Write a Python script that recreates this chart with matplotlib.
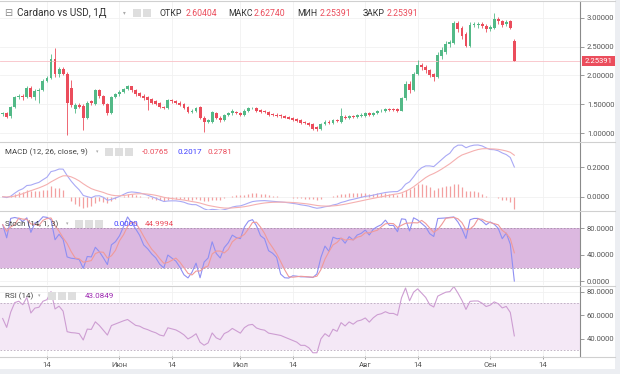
import numpy as np
import pandas as pd
import matplotlib
matplotlib.use("Agg")
import matplotlib.pyplot as plt
import matplotlib.transforms as mtransforms
from matplotlib.patches import Rectangle
from matplotlib.lines import Line2D
from matplotlib.ticker import FormatStrFormatter

plt.rcParams['font.family'] = ['Roboto', 'DejaVu Sans']

# daily candles, 3 May .. 7 Sep
opens = [1.33, 1.35, 1.29, 1.45, 1.62, 1.65, 1.62, 1.79, 1.62, 1.73,
         1.75, 1.91, 1.96, 2.29, 2.02, 2.12, 2.03, 1.79, 1.41, 1.48,
         1.47, 1.26, 1.55, 1.50, 1.74, 1.64, 1.50, 1.345, 1.62, 1.67,
         1.72, 1.77, 1.81, 1.74, 1.69, 1.65, 1.62, 1.59, 1.55, 1.52,
         1.45, 1.43, 1.57, 1.55, 1.53, 1.50, 1.45, 1.37, 1.39, 1.45,
         1.27, 1.19, 1.19, 1.35, 1.27, 1.22, 1.31, 1.34, 1.37, 1.35,
         1.32, 1.39, 1.43, 1.44, 1.40, 1.38, 1.37, 1.33, 1.32, 1.31,
         1.29, 1.28, 1.26, 1.24, 1.23, 1.20, 1.17, 1.16, 1.11, 1.07,
         1.16, 1.20, 1.18, 1.23, 1.20, 1.28, 1.27, 1.30, 1.28, 1.30,
         1.29, 1.34, 1.31, 1.34, 1.38, 1.38, 1.42, 1.42, 1.41, 1.39,
         1.60, 1.86, 1.75, 2.03, 2.19, 2.15, 2.09, 2.02, 1.98, 2.33,
         2.40, 2.55, 2.57, 2.91, 2.83, 2.72, 2.52, 2.88, 2.87, 2.90,
         2.86, 2.80, 2.83, 2.98, 2.95, 2.89, 2.94, 2.60404]
highs = [1.37, 1.37, 1.47, 1.64, 1.68, 1.67, 1.82, 1.81, 1.76, 1.78,
         1.93, 1.99, 2.38, 2.47, 2.15, 2.14, 2.06, 1.92, 1.52, 1.53,
         1.50, 1.56, 1.58, 1.77, 1.77, 1.66, 1.53, 1.64, 1.69, 1.74,
         1.79, 1.83, 1.82, 1.76, 1.71, 1.67, 1.64, 1.61, 1.57, 1.54,
         1.47, 1.59, 1.59, 1.57, 1.55, 1.52, 1.47, 1.41, 1.45, 1.47,
         1.29, 1.24, 1.38, 1.37, 1.29, 1.33, 1.36, 1.41, 1.39, 1.37,
         1.41, 1.45, 1.46, 1.45, 1.42, 1.40, 1.39, 1.35, 1.34, 1.33,
         1.31, 1.30, 1.28, 1.26, 1.24, 1.21, 1.19, 1.17, 1.13, 1.18,
         1.22, 1.22, 1.25, 1.25, 1.43, 1.31, 1.32, 1.32, 1.33, 1.34,
         1.36, 1.36, 1.37, 1.40, 1.41, 1.43, 1.44, 1.44, 1.43, 1.62,
         1.90, 1.90, 2.06, 2.26, 2.22, 2.18, 2.12, 2.05, 2.40, 2.50,
         2.60, 2.62, 2.95, 2.95, 2.86, 2.75, 2.92, 2.93, 2.92, 2.93,
         2.89, 2.88, 3.09, 3.01, 2.97, 2.96, 2.96, 2.62740]
lows = [1.30, 1.26, 1.27, 1.43, 1.59, 1.58, 1.60, 1.60, 1.58, 1.52,
        1.73, 1.88, 1.94, 1.98, 1.97, 2.00, 0.97, 1.45, 1.35, 1.43,
        1.05, 1.24, 1.49, 1.48, 1.61, 1.48, 1.32, 1.33, 1.60, 1.65,
        1.70, 1.75, 1.72, 1.65, 1.63, 1.58, 1.40, 1.51, 1.48, 1.43,
        1.41, 1.42, 1.53, 1.51, 1.47, 1.42, 1.34, 1.35, 1.37, 1.24,
        1.02, 1.17, 1.18, 1.24, 1.20, 1.21, 1.29, 1.32, 1.33, 1.29,
        1.30, 1.37, 1.41, 1.37, 1.35, 1.34, 1.30, 1.29, 1.28, 1.27,
        1.26, 1.24, 1.21, 1.19, 1.15, 1.15, 1.12, 1.05, 1.03, 1.05,
        1.14, 1.15, 1.16, 1.19, 1.18, 1.24, 1.25, 1.26, 1.27, 1.28,
        1.28, 1.29, 1.30, 1.33, 1.36, 1.37, 1.38, 1.38, 1.37, 1.38,
        1.58, 1.70, 1.73, 2.01, 2.10, 2.05, 1.97, 1.91, 1.96, 2.28,
        2.38, 2.50, 2.55, 2.76, 2.64, 2.50, 2.50, 2.84, 2.82, 2.82,
        2.76, 2.77, 2.81, 2.90, 2.84, 2.86, 2.80, 2.25391]
closes = [1.35, 1.28, 1.45, 1.62, 1.65, 1.62, 1.79, 1.62, 1.73, 1.75,
          1.91, 1.96, 2.29, 2.02, 2.12, 2.03, 1.52, 1.49, 1.48, 1.46,
          1.26, 1.53, 1.52, 1.74, 1.64, 1.50, 1.345, 1.62, 1.67, 1.72,
          1.77, 1.81, 1.74, 1.67, 1.65, 1.60, 1.57, 1.53, 1.50, 1.45,
          1.43, 1.57, 1.55, 1.53, 1.49, 1.44, 1.36, 1.39, 1.43, 1.26,
          1.19, 1.22, 1.36, 1.26, 1.22, 1.31, 1.34, 1.39, 1.35, 1.31,
          1.39, 1.43, 1.44, 1.39, 1.37, 1.36, 1.32, 1.31, 1.30, 1.29,
          1.27, 1.25, 1.23, 1.21, 1.17, 1.17, 1.14, 1.07, 1.07, 1.16,
          1.20, 1.17, 1.23, 1.21, 1.29, 1.26, 1.30, 1.28, 1.31, 1.32,
          1.34, 1.31, 1.35, 1.38, 1.39, 1.41, 1.40, 1.40, 1.39, 1.60,
          1.86, 1.75, 2.03, 2.19, 2.14, 2.09, 2.00, 1.97, 2.35, 2.45,
          2.55, 2.58, 2.91, 2.81, 2.69, 2.52, 2.88, 2.90, 2.90, 2.86,
          2.80, 2.85, 2.98, 2.95, 2.88, 2.93, 2.83, 2.25391]

tick_pos = [11, 29, 42, 59, 72, 90, 103, 121, 134]
tick_lab = ['14', 'Июн', '14', 'Июл', '14', 'Авг', '14', 'Сен', '14']

# RSI averages at the left edge (RSI there reads about 57)
rsi_gain0 = 0.020
rsi_loss0 = 0.015
# 14-day range before the first candle (Stoch there reads near 89)
stoch_low0 = 1.05
stoch_high0 = 1.40

GREEN = '#53b987'
RED = '#eb4d5c'

o = np.array(opens); h = np.array(highs); l = np.array(lows); c = np.array(closes)
idx = np.arange(len(c))

# indicators, computed from the candles
cs = pd.Series(c)
macd = cs.ewm(span=12, adjust=False).mean() - cs.ewm(span=26, adjust=False).mean()
signal = macd.ewm(span=9, adjust=False).mean()
hist = macd - signal

ll = pd.Series(l).rolling(14, min_periods=1).min().to_numpy()
hh = pd.Series(h).rolling(14, min_periods=1).max().to_numpy()
ll[:13] = np.minimum(ll[:13], stoch_low0)
hh[:13] = np.maximum(hh[:13], stoch_high0)
k = pd.Series(100 * (c - ll) / (hh - ll))
d = k.rolling(3, min_periods=1).mean()

# Wilder RSI
g, ls_ = rsi_gain0, rsi_loss0
rsi = [100 - 100 / (1 + g / ls_)]
for i in range(1, len(c)):
    ch = c[i] - c[i - 1]
    g = (13 * g + max(ch, 0)) / 14
    ls_ = (13 * ls_ + max(-ch, 0)) / 14
    rsi.append(100 - 100 / (1 + g / ls_))

W, H = 620, 374
fig = plt.figure(figsize=(6.2, 3.74), dpi=100)
fig.patch.set_facecolor('white')


def box(top, bottom):
    return [0, 1 - bottom / H, 580 / W, (bottom - top) / H]


ax1 = fig.add_axes(box(1, 141))
ax2 = fig.add_axes(box(142, 210))
ax3 = fig.add_axes(box(211, 285))
ax4 = fig.add_axes(box(286, 356))

for ax in (ax1, ax2, ax3, ax4):
    for s in ('left', 'top', 'bottom'):
        ax.spines[s].set_visible(False)
    ax.spines['right'].set_color('#8a8a8a')
    ax.spines['right'].set_linewidth(0.8)
    ax.yaxis.tick_right()
    ax.tick_params(axis='y', length=3, width=0.6, color='#8a8a8a',
                   labelsize=5.5, labelcolor='#555555', pad=2)
    ax.set_xlim(-0.66, 143.3)
    ax.set_xticks(tick_pos)
    ax.grid(True, color='#f1f1f1', lw=0.6)
    ax.set_axisbelow(True)
    if ax is not ax4:
        ax.tick_params(axis='x', length=0, labelbottom=False)

ax4.set_xticklabels(tick_lab)
ax4.tick_params(axis='x', length=2, width=0.6, color='#8a8a8a',
                labelsize=5.5, labelcolor='#555555', pad=2)

# price candles
cols = np.where(c >= o, GREEN, RED)
ax1.axhline(c[-1], color='#f8c0c6', lw=0.6)
ax1.vlines(idx, l, h, colors=cols, lw=0.6)
ax1.bar(idx, np.maximum(np.abs(c - o), 0.008), bottom=np.minimum(o, c),
        width=0.72, color=cols, linewidth=0)
ax1.set_ylim(0.862, 3.293)
ax1.set_yticks([1.0, 1.5, 2.0, 2.5, 3.0])
ax1.yaxis.set_major_formatter(FormatStrFormatter('%.5f'))
tr = mtransforms.blended_transform_factory(ax1.transAxes, ax1.transData)
ax1.text(1.008, c[-1], '%.5f' % c[-1], transform=tr, ha='left', va='center',
         fontsize=5.5, color='white',
         bbox=dict(boxstyle='square,pad=0.3', fc=RED, ec='none'))

# MACD
ax2.vlines(idx, 0, hist, colors='#f3a0a0', lw=0.9)
ax2.plot(idx, macd, color='#a9a9f5', lw=0.8)
ax2.plot(idx, signal, color='#f5b0b0', lw=0.8)
ax2.set_ylim(-0.09, 0.372)
ax2.set_yticks([0.0, 0.2])
ax2.yaxis.set_major_formatter(FormatStrFormatter('%.4f'))

# Stochastic
ax3.axhspan(20, 80, color='#dcb8e0', lw=0)
for v in (20, 80):
    ax3.axhline(v, color='#a58fa9', lw=0.6, ls=(0, (2, 2)))
ax3.plot(idx, k, color='#8f8ff2', lw=0.8)
ax3.plot(idx, d, color='#f09a9a', lw=0.8)
ax3.set_ylim(-6, 106.5)
ax3.set_yticks([0, 40, 80])
ax3.yaxis.set_major_formatter(FormatStrFormatter('%.4f'))

# RSI
ax4.axhspan(30, 70, color='#f4e8f6', lw=0)
for v in (30, 70):
    ax4.axhline(v, color='#b9a9bd', lw=0.6, ls=(0, (2, 2)))
ax4.plot(idx, rsi, color='#cd9dd2', lw=0.8)
ax4.set_ylim(25.1, 84.9)
ax4.set_yticks([40, 60, 80])
ax4.yaxis.set_major_formatter(FormatStrFormatter('%.4f'))

# frame / separators
for py in (0.5, 141.5, 210.5, 285.5, 356.5):
    fig.add_artist(Line2D([0, 615 / W], [1 - py / H] * 2, color='#d0d0d0', lw=0.8))
fig.add_artist(Rectangle((615 / W, 0), 5 / W, 1, transform=fig.transFigure,
                         fc='#eceef2', ec='none'))
fig.add_artist(Rectangle((0, 0), 1, 5 / H, transform=fig.transFigure,
                         fc='#eceef2', ec='none'))


def ftext(px, py, s, **kw):
    fig.text(px / W, 1 - py / H, s, va='center', ha='left', **kw)


def icons(px, py, n):
    for j in range(n):
        fig.add_artist(Rectangle(((px + j * 10) / W, 1 - (py + 4) / H), 8 / W, 8 / H,
                                 transform=fig.transFigure, fc='#dedede', ec='none'))


# header legends
ftext(4, 13, '⊟', fontsize=7, color='#888888', family='DejaVu Sans')
ftext(17, 13, 'Cardano vs USD, 1Д', fontsize=7.2, color='#333333')
ftext(123, 13, '▾', fontsize=4, color='#aaaaaa', family='DejaVu Sans')
icons(133, 13, 2)
ftext(160, 13, 'ОТКР', fontsize=6.3, color='#333333')
ftext(186, 13, '2.60404', fontsize=6.3, color=RED)
ftext(228, 13, 'МАКС', fontsize=6.3, color='#333333')
ftext(254, 13, '2.62740', fontsize=6.3, color=RED)
ftext(297, 13, 'МИН', fontsize=6.3, color='#333333')
ftext(320, 13, '2.25391', fontsize=6.3, color=RED)
ftext(363, 13, 'ЗАКР', fontsize=6.3, color='#333333')
ftext(387, 13, '2.25391', fontsize=6.3, color=RED)

ftext(5, 152, 'MACD (12, 26, close, 9)', fontsize=5.8, color='#444444')
ftext(96, 152, '▾', fontsize=3.5, color='#aaaaaa', family='DejaVu Sans')
icons(105, 152, 3)
ftext(142, 152, '-0.0765', fontsize=5.8, color=RED)
ftext(177, 152, '0.2017', fontsize=5.8, color='#3d3dff')
ftext(207, 152, '0.2781', fontsize=5.8, color=RED)

ftext(5, 224, 'Stoch (14, 1, 3)', fontsize=5.8, color='#444444')
ftext(66, 224, '▾', fontsize=3.5, color='#aaaaaa', family='DejaVu Sans')
icons(75, 224, 3)
ftext(113, 224, '0.0000', fontsize=5.8, color='#3d3dff')
ftext(145, 224, '44.9994', fontsize=5.8, color=RED)

ftext(5, 296, 'RSI (14)', fontsize=5.8, color='#444444')
ftext(38, 296, '▾', fontsize=3.5, color='#aaaaaa', family='DejaVu Sans')
icons(48, 296, 3)
ftext(85, 296, '43.0849', fontsize=5.8, color='#9c27b0')

fig.savefig('out.png', dpi=100, facecolor=fig.get_facecolor())
